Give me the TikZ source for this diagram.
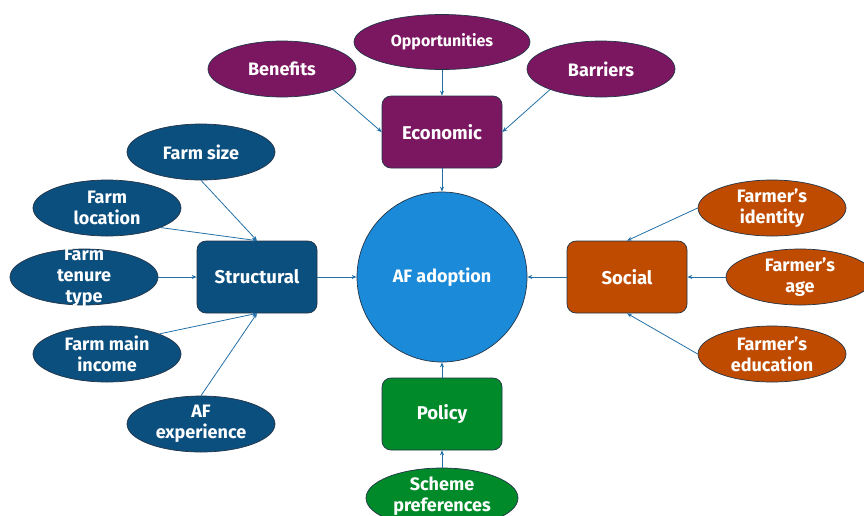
\documentclass[tikz,border=0pt]{standalone}
\usepackage{fontspec}
\setmainfont{Fira Sans}
\usetikzlibrary{shapes.geometric,arrows.meta}
\definecolor{econ}{HTML}{7B1660}
\definecolor{struc}{HTML}{0B4F7F}
\definecolor{soc}{HTML}{BF4B00}
\definecolor{pol}{HTML}{008A2A}
\definecolor{core}{HTML}{1B8AD8}
\definecolor{edge}{HTML}{233447}
\definecolor{link}{HTML}{2370A8}

\begin{document}
\begin{tikzpicture}[x=1pt,y=-1pt,
  box/.style={draw=edge,line width=0.7pt,rounded corners=9pt,minimum width=120pt,minimum height=72pt,
    text=white,font=\fontsize{18.5}{21}\selectfont\bfseries},
  oval/.style={ellipse,draw=edge,line width=0.7pt,minimum width=148pt,minimum height=56pt,inner sep=0pt},
  ovaltext/.style={text=white,align=center,font=\fontsize{18}{21}\selectfont\bfseries,inner sep=0pt},
  arr/.style={-{Stealth[length=5pt,width=4pt]},draw=link,line width=0.8pt}]
  \useasboundingbox (0,0) rectangle (864,515);
  % centre
  \node[circle,draw=edge,line width=0.7pt,fill=core,minimum size=170pt,text=white,
    font=\fontsize{18}{21}\selectfont\bfseries] (adopt) at (442,277) {AF adoption};
  \node[box,fill=econ] (eco) at (442,132) {Economic};
  \node[box,fill=struc] (str) at (257,277) {Structural};
  \node[box,fill=soc] (soc) at (627,277) {Social};
  \node[box,fill=pol] (pol) at (442,414) {Policy};
  % economic factors
  \node[oval,fill=econ,minimum width=176pt,minimum height=55pt,
    label={[ovaltext,font=\fontsize{16}{21}\selectfont\bfseries]center:Opportunities}] (opp) at (442,42) {};
  \node[oval,fill=econ,label={[ovaltext]center:Benefits}] (ben) at (282,69) {};
  \node[oval,fill=econ,label={[ovaltext]center:Barriers}] (bar) at (601,69) {};
  % structural factors
  \node[oval,fill=struc,label={[ovaltext]center:Farm size}] (size) at (201,152) {};
  \node[oval,fill=struc,label={[ovaltext]center:Farm\\location}] (loc) at (107,208) {};
  \node[oval,fill=struc,label={[ovaltext]center:Farm\\tenure\\type}] (ten) at (84,277) {};
  \node[oval,fill=struc,label={[ovaltext]center:Farm main\\income}] (inc) at (107,354) {};
  \node[oval,fill=struc,label={[ovaltext]center:AF\\experience}] (exp) at (201,424) {};
  % social factors
  \node[oval,fill=soc,label={[ovaltext]center:Farmer’s\\identity}] (iden) at (772,208) {};
  \node[oval,fill=soc,label={[ovaltext]center:Farmer’s\\age}] (age) at (800,277) {};
  \node[oval,fill=soc,label={[ovaltext]center:Farmer’s\\education}] (edu) at (772,354) {};
  % policy factors
  \node[oval,fill=pol,minimum width=152pt,minimum height=60pt,
    label={[ovaltext,yshift=2pt]center:Scheme\\preferences}] (sch) at (442,498) {};
  % links
  \draw[arr] (opp.south) -- (eco.north);
  \draw[arr] (ben.-22) -- (eco.west);
  \draw[arr] (bar.-158) -- (eco.east);
  \draw[arr] (size.south) -- (str.north);
  \draw[arr] (loc.-20) -- (str.north);
  \draw[arr] (ten.east) -- (str.west);
  \draw[arr] (inc.21) -- (str.south);
  \draw[arr] (exp.north) -- (str.south);
  \draw[arr] (iden.west) -- (soc.north);
  \draw[arr] (age.west) -- (soc.east);
  \draw[arr] (edu.west) -- (soc.south);
  \draw[arr] (sch.north) -- (pol.south);
  \draw[arr] (eco.south) -- (adopt.north);
  \draw[arr] (str.east) -- (adopt.west);
  \draw[arr] (soc.west) -- (adopt.east);
  \draw[arr] (pol.north) -- (adopt.south);
\end{tikzpicture}
\end{document}
